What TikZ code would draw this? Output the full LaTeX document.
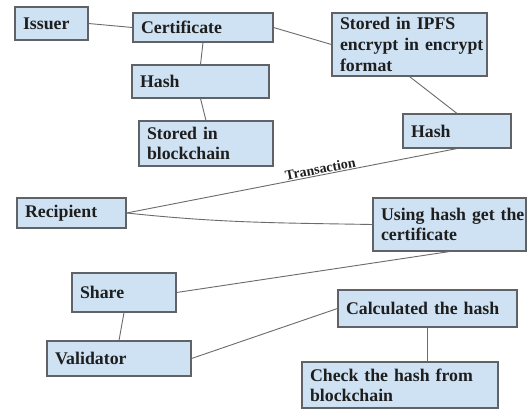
\documentclass[tikz,border=0pt]{standalone}
\usepackage{fontspec}
\setmainfont{Liberation Serif}
\usetikzlibrary{calc}
\definecolor{boxfill}{HTML}{CFE2F3}
\definecolor{boxline}{HTML}{5F6368}
\definecolor{linkline}{HTML}{6B6B6B}
\definecolor{boxtext}{HTML}{1E1E1E}
\tikzset{
  box/.style={draw=boxline, line width=1.1pt, fill=boxfill, rectangle,
    inner xsep=8pt, inner ysep=0pt, align=left, text=boxtext,
    font=\fontsize{17.8}{20}\selectfont\bfseries},
  link/.style={draw=linkline, line width=0.9pt},
  lbl/.style={font=\fontsize{14}{16}\selectfont\bfseries, text=boxtext, inner sep=1pt}
}
\begin{document}
\begin{tikzpicture}[x=1pt,y=-1pt]
\useasboundingbox[fill=white] (0,0) rectangle (529,410);
\node[box, minimum width=73pt, minimum height=33pt, text width=57pt] (issuer) at (51.5,23.5) {Issuer};
\node[box, minimum width=140pt, minimum height=29pt, text width=124pt] (cert) at (203,27.5) {Certificate};
\node[box, minimum width=137pt, minimum height=33pt, text width=121pt] (hashA) at (200.5,81.5) {Hash};
\node[box, minimum width=134pt, minimum height=45pt, text width=118pt] (chain) at (206,143.5) {\mbox{Stored in}\\\mbox{blockchain}};
\node[box, minimum width=155pt, minimum height=63pt, text width=139pt, font=\fontsize{17.8}{21}\selectfont\bfseries] (ipfs) at (409.5,44.5) {\mbox{Stored in IPFS}\\\mbox{encrypt in encrypt}\\\mbox{format}};
\node[box, minimum width=108pt, minimum height=34pt, text width=92pt] (hashB) at (457,131) {Hash};
\node[box, minimum width=109pt, minimum height=30pt, text width=93pt] (recip) at (71.5,213) {Recipient};
\node[box, minimum width=153pt, minimum height=53pt, text width=137pt] (using) at (449.5,224.5) {\mbox{Using hash get the}\\\mbox{certificate}};
\node[box, minimum width=104pt, minimum height=39pt, text width=88pt] (share) at (124,292.5) {Share};
\node[box, minimum width=144pt, minimum height=35pt, text width=128pt] (valid) at (119,358.5) {Validator};
\node[box, minimum width=179pt, minimum height=37pt, text width=163pt] (calc) at (427.5,308.5) {\mbox{Calculated the hash}};
\node[box, minimum width=196pt, minimum height=46pt, text width=180pt] (check) at (400,385) {\mbox{Check the hash from}\\\mbox{blockchain}};

\draw[link] (issuer.east) -- (cert.west);
\draw[link] (cert.south) -- (hashA.north);
\draw[link] (hashA.south) -- (chain.north);
\draw[link] (cert.east) -- (ipfs.west);
\draw[link] (ipfs.south) -- (hashB.north);
\draw[link] (hashB.south) -- node[lbl, pos=0.41, sloped, above] {Transaction} (recip.east);
\draw[link] (recip.east) to[out=-6, in=179] (using.west);
\draw[link] (using.south) -- (share.east);
\draw[link] (share.south) -- (valid.north);
\draw[link] (valid.east) -- (calc.west);
\draw[link] (calc.south) -- (check.north -| calc.south);
\end{tikzpicture}
\end{document}
